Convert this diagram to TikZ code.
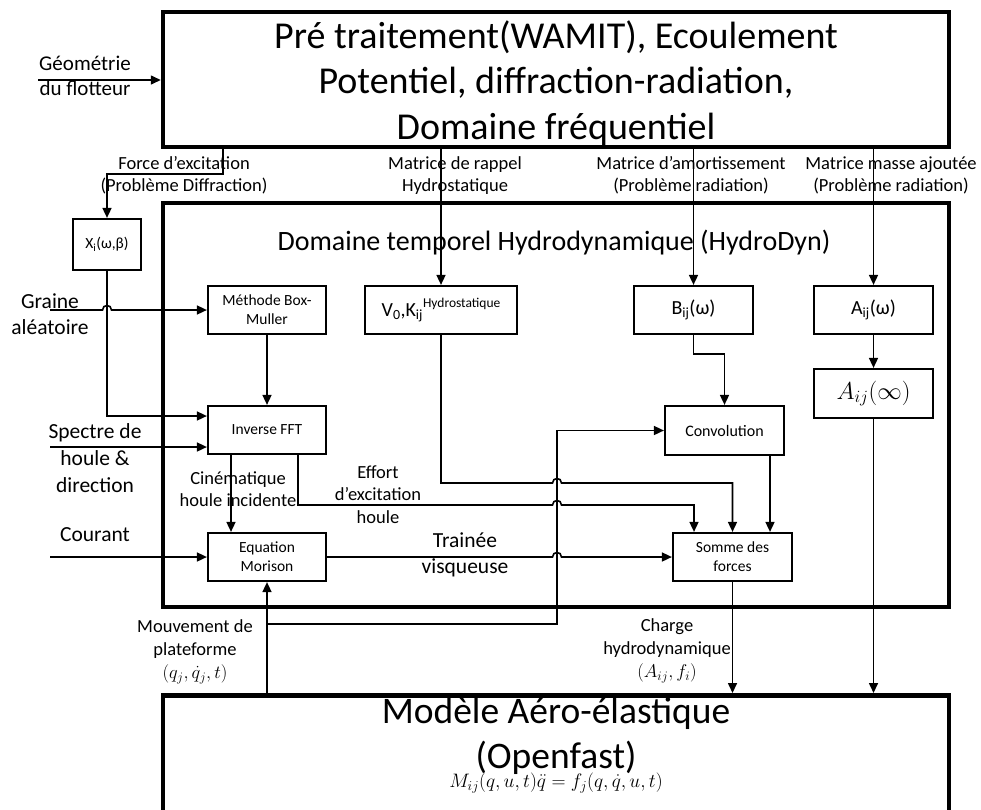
\RequirePackage{fix-cm}
\documentclass[tikz,border=0pt]{standalone}
\usepackage{fontspec}
\setmainfont{Carlito}
\usetikzlibrary{arrows.meta,calc}
\begin{document}
\begin{tikzpicture}[x=1pt,y=-1pt,
  thickbox/.style={draw, line width=4.5pt, inner sep=0pt},
  blk/.style={draw, line width=2.2pt, inner sep=0pt, align=center, font=\fontsize{15.5}{19}\selectfont},
  conn/.style={line width=1.6pt},
  arr/.style={conn, -{Triangle[length=10pt,width=9pt]}},
  lbl/.style={align=center, inner sep=0pt, font=\fontsize{18.5}{22.5}\selectfont},
  lblbig/.style={align=center, inner sep=0pt, font=\fontsize{21.5}{25.5}\selectfont}
]
\clip (0,0) rectangle (981,809);

% main boxes
\node[thickbox, minimum width=786pt, minimum height=135pt] (top) at (556,79.5) {};
\node[inner sep=0pt, align=center, font=\fontsize{38}{45.5}\selectfont] (topt) at (556,83)
  {Pré traitement(WAMIT), Ecoulement\\Potentiel, diffraction-radiation,\\Domaine fréquentiel};
\node[thickbox, minimum width=786pt, minimum height=404pt] (hyd) at (556,405) {};
\node[inner sep=0pt, font=\fontsize{28}{34}\selectfont] (hydt) at (554,243)
  {Domaine temporel Hydrodynamique (HydroDyn)};
\node[thickbox, minimum width=786pt, minimum height=140pt, anchor=north] (mod) at (556,693) {};
\node[inner sep=0pt, align=center, font=\fontsize{37.5}{45}\selectfont] (modt) at (556,736)
  {Modèle Aéro-élastique\\(Openfast)};
\node[inner sep=0pt, font=\fontsize{19.5}{23}\selectfont] (eq) at (556,783)
  {$M_{ij}(q,u,t)\ddot{q} = f_j(q,\dot{q},u,t)$};

% small boxes
\node[blk, minimum width=68pt, minimum height=51pt] (X) at (107,244.5) {X\textsubscript{i}(ω,β)};
\node[blk, minimum width=118pt, minimum height=48pt] (BM) at (267,310) {Méthode Box-\\Muller};
\node[blk, minimum width=152pt, minimum height=48pt, font=\fontsize{20}{24}\selectfont] (V0) at (441,310)
  {V\textsubscript{0},K\textsubscript{ij}\raisebox{9pt}{\fontsize{13.5}{16}\selectfont Hydrostatique}};
\node[blk, minimum width=119pt, minimum height=48pt, font=\fontsize{20}{24}\selectfont] (B) at (693.5,310) {B\textsubscript{ij}(ω)};
\node[blk, minimum width=119pt, minimum height=48pt, font=\fontsize{20}{24}\selectfont] (Aw) at (873.5,310) {A\textsubscript{ij}(ω)};
\node[blk, minimum width=119pt, minimum height=49pt, font=\fontsize{24.5}{29}\selectfont] (Ainf) at (873.5,393.5) {$A_{ij}(\infty)$};
\node[blk, minimum width=118pt, minimum height=48pt] (IFFT) at (267,430) {Inverse FFT};
\node[blk, minimum width=119pt, minimum height=49pt, font=\fontsize{16}{19}\selectfont] (Conv) at (724.5,430.5) {Convolution};
\node[blk, minimum width=118pt, minimum height=48pt] (Mor) at (267,557) {Equation\\Morison};
\node[blk, minimum width=119pt, minimum height=48pt] (Som) at (732.5,557) {Somme des\\forces};

% coordinates
\coordinate (geo) at (38,80);
\coordinate (gra) at (50,310);
\coordinate (spe) at (50,447);
\coordinate (cou) at (50,557);
\coordinate (f1) at (223,174);
\coordinate (xb) at (107,416);
\coordinate (e1) at (298,505);
\coordinate (e2) at (694,505);
\coordinate (h1) at (441,483);
\coordinate (b1) at (693.5,354);
\coordinate (cv) at (770,455);
\coordinate (ci) at (231,455);
\coordinate (m1) at (267,624);
\coordinate (m2) at (557,624);
\coordinate (m3) at (557,430.5);

% connectors
\draw[arr] (geo) -- (geo -| top.west);
\draw[arr] (f1 |- top.south) -- (f1) -| (X.north);
\draw[arr] (V0.north |- top.south) -- (V0.north);
\draw[arr] (B.north |- top.south) -- (B.north);
\draw[arr] (Aw.north |- top.south) -- (Aw.north);
\draw[arr] (X.south) -- (xb) -- (xb -| IFFT.west);
\draw[arr] (gra) -- (102.5,310) .. controls (102.5,304) and (111.5,304) .. (111.5,310) -- (BM.west);
\draw[arr] (spe) -- (spe -| IFFT.west);
\draw[arr] (cou) -- (cou -| Mor.west);
\draw[arr] (BM.south) -- (IFFT.north);
\draw[arr] (ci |- IFFT.south) -- (ci |- Mor.north);
\draw[arr] (e1 |- IFFT.south) -- (e1) -- (552.5,505) .. controls (552.5,499) and (561.5,499) .. (561.5,505) -- (e2) -- (e2 |- Som.north);
\draw[arr] (V0.south) -- (h1) -- (552.5,483) .. controls (552.5,477) and (561.5,477) .. (561.5,483) -- (h1 -| Som.north) -- (Som.north);
\draw[arr] (B.south) -- (b1) -| (Conv.north);
\draw[arr] (cv |- Conv.south) -- (cv |- Som.north);
\draw[arr] (Aw.south) -- (Ainf.north);
\draw[arr] (Ainf.south) -- (Ainf.south |- mod.north);
\draw[arr] (Som.south) -- (Som.south |- mod.north);
\draw[arr] (Mor.east) -- (552.5,557) .. controls (552.5,551) and (561.5,551) .. (561.5,557) -- (Som.west);
\draw[arr] (m1 |- mod.north) -- (Mor.south);
\draw[arr] (m1) -- (m2) -- (m3) -- (Conv.west);

% labels
\node[lbl, font=\fontsize{21}{25}\selectfont] (lgeo) at (85,76) {Géométrie\\du flotteur};
\node[lbl] (lforce) at (184,175.5) {Force d’excitation\\(Problème Diffraction)};
\node[lbl] (lrap) at (455,175.5) {Matrice de rappel\\Hydrostatique};
\node[lbl] (lamo) at (691,175.5) {Matrice d’amortissement\\(Problème radiation)};
\node[lbl] (lmas) at (891,175.5) {Matrice masse ajoutée\\(Problème radiation)};
\node[lblbig] (lgra) at (50,314) {Graine\\aléatoire};
\node[lblbig, font=\fontsize{21.5}{27}\selectfont] (lspe) at (95,458) {Spectre de\\houle \&\\direction};
\node[lblbig] (lcou) at (95,535) {Courant};
\node[lbl, font=\fontsize{18.5}{21.5}\selectfont] (lcin) at (238,489) {Cinématique\\houle incidente};
\node[lbl] (leff) at (378,494.5) {Effort\\d’excitation\\houle};
\node[lblbig] (ltra) at (465,555) {Trainée\\visqueuse};
\node[lbl, font=\fontsize{18.5}{23}\selectfont] (lmou) at (195,652) {Mouvement de\\plateforme\\$(q_j,\dot{q}_j,t)$};
\node[lbl, font=\fontsize{18.5}{23}\selectfont] (lcha) at (667,651) {Charge\\hydrodynamique\\$(A_{ij},f_i)$};
\end{tikzpicture}
\end{document}
